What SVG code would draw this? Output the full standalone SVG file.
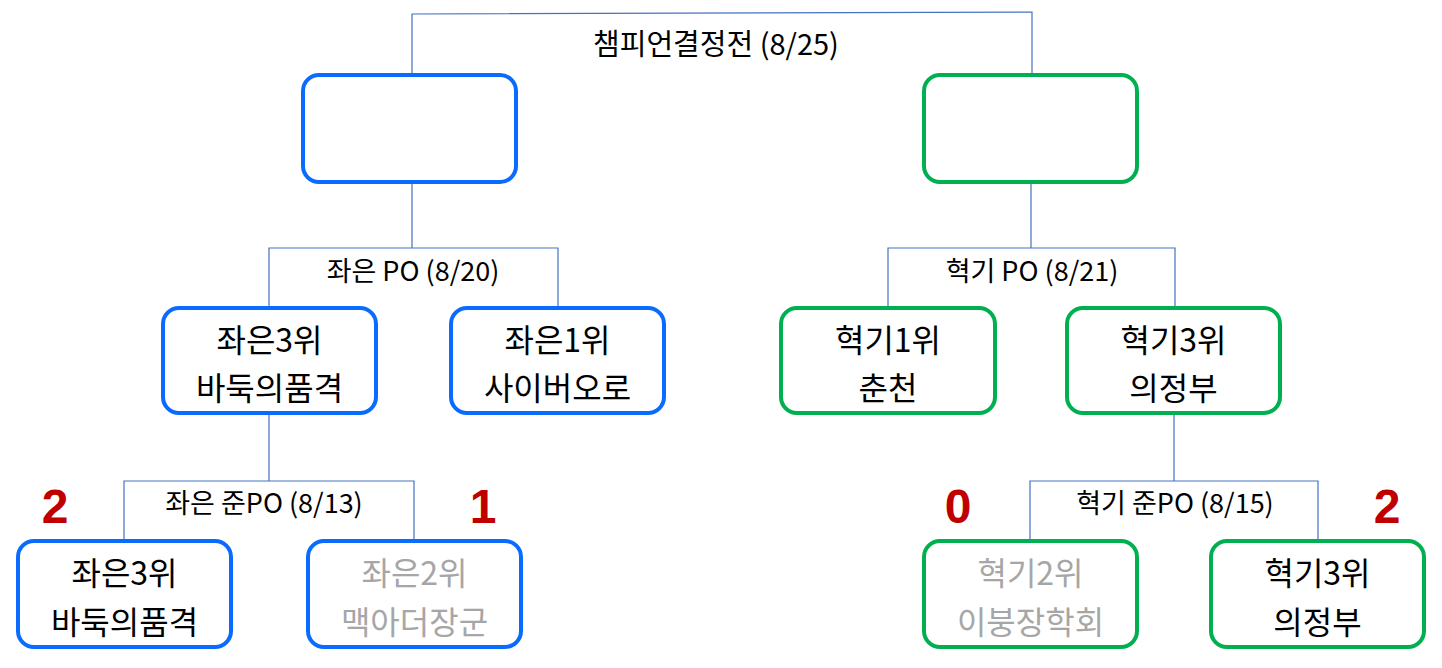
<svg xmlns="http://www.w3.org/2000/svg" width="1442" height="668" viewBox="0 0 1442 668">
<style>
.bg{fill:#ffffff}
.conn{fill:none;stroke:#4472C4;stroke-width:1.2}
.b{fill:#ffffff;stroke:#0A6CFF;stroke-width:4}
.g{fill:#ffffff;stroke:#00B050;stroke-width:4}
.t{font-family:"Noto Sans CJK KR","Noto Sans",sans-serif;font-size:32px;fill:#000000;text-anchor:middle;dominant-baseline:central}
.t.dim{fill:#A6A6A6}
.lbl{font-family:"Noto Sans CJK KR","Noto Sans",sans-serif;font-size:27px;fill:#000000;text-anchor:middle;dominant-baseline:central}
.ttl{font-size:29px}
.sc{font-family:"Liberation Sans","Noto Sans",sans-serif;font-size:48px;font-weight:bold;fill:#C00000;text-anchor:middle;dominant-baseline:central}
</style>
<rect class="bg" x="0" y="0" width="1442" height="668"/>
<g id="connectors">
  <path class="conn" d="M412,75 V14 L1032,12 V75"/>
  <path class="conn" d="M412,183 V248 M269,307 V248 H558 V307"/>
  <path class="conn" d="M1031,183 V248 M888,307 V248 H1175 V307"/>
  <path class="conn" d="M269,414 V481 M124,540 V481 H414 V540"/>
  <path class="conn" d="M1174,414 V481 M1030,540 V481 H1318 V540"/>
</g>
<g id="labels">
  <text class="lbl ttl" x="716" y="42">챔피언결정전 (8/25)</text>
  <text class="lbl" x="413" y="269">좌은 PO (8/20)</text>
  <text class="lbl" x="1032" y="269">혁기 PO (8/21)</text>
  <text class="lbl" x="264" y="501">좌은 준PO (8/13)</text>
  <text class="lbl" x="1175" y="501">혁기 준PO (8/15)</text>
</g>
<g id="final-left"><rect class="b" x="303" y="75" width="213" height="107" rx="16"/></g>
<g id="final-right"><rect class="g" x="924" y="75" width="213" height="107" rx="16"/></g>
<g id="po-left-3">
  <rect class="b" x="163" y="308" width="213" height="105" rx="16"/>
  <text class="t" x="269.5" y="338">좌은3위</text>
  <text class="t" x="269.5" y="386">바둑의품격</text>
</g>
<g id="po-left-1">
  <rect class="b" x="451" y="308" width="213" height="105" rx="16"/>
  <text class="t" x="557.5" y="338">좌은1위</text>
  <text class="t" x="557.5" y="386">사이버오로</text>
</g>
<g id="po-right-1">
  <rect class="g" x="781" y="308" width="214" height="105" rx="16"/>
  <text class="t" x="888" y="338">혁기1위</text>
  <text class="t" x="888" y="386">춘천</text>
</g>
<g id="po-right-3">
  <rect class="g" x="1067" y="308" width="213" height="105" rx="16"/>
  <text class="t" x="1173.5" y="338">혁기3위</text>
  <text class="t" x="1173.5" y="386">의정부</text>
</g>
<g id="wc-left-3">
  <rect class="b" x="18" y="541" width="213" height="106" rx="16"/>
  <text class="t" x="124.5" y="571">좌은3위</text>
  <text class="t" x="124.5" y="620">바둑의품격</text>
</g>
<g id="wc-left-2">
  <rect class="b" x="308" y="541" width="213" height="106" rx="16"/>
  <text class="t dim" x="414.5" y="571">좌은2위</text>
  <text class="t dim" x="414.5" y="620">맥아더장군</text>
</g>
<g id="wc-right-2">
  <rect class="g" x="924" y="541" width="213" height="106" rx="16"/>
  <text class="t dim" x="1030.5" y="571">혁기2위</text>
  <text class="t dim" x="1030.5" y="620">이붕장학회</text>
</g>
<g id="wc-right-3">
  <rect class="g" x="1211" y="541" width="213" height="106" rx="16"/>
  <text class="t" x="1317.5" y="571">혁기3위</text>
  <text class="t" x="1317.5" y="620">의정부</text>
</g>
<g id="scores">
  <text class="sc" x="55" y="506">2</text>
  <text class="sc" x="483" y="506">1</text>
  <text class="sc" x="958" y="506">0</text>
  <text class="sc" x="1387" y="506">2</text>
</g>
</svg>
